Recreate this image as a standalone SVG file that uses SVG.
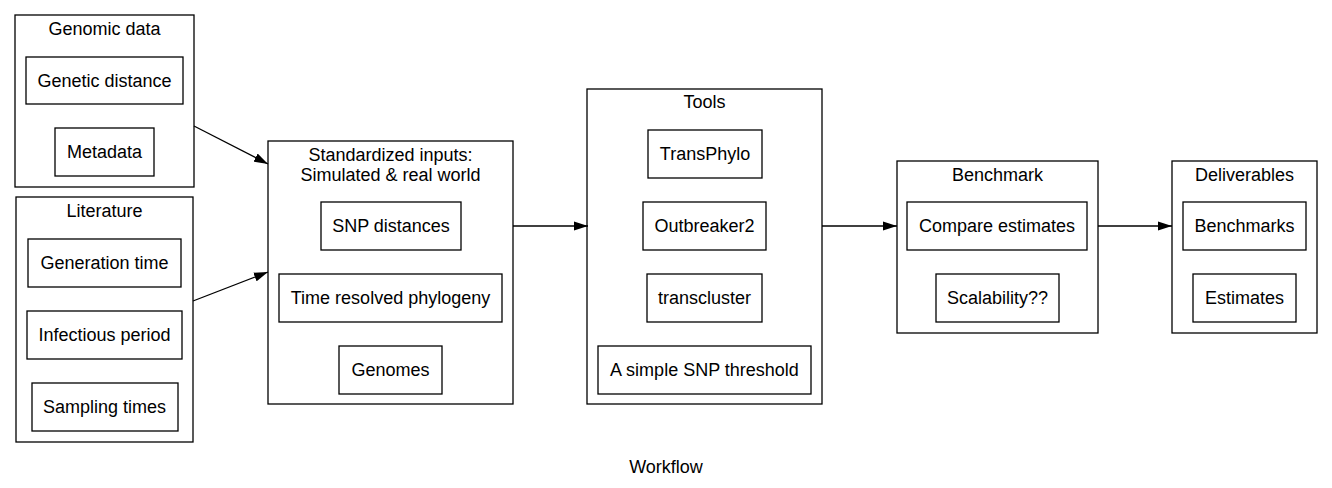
<svg xmlns="http://www.w3.org/2000/svg" width="1332" height="488" viewBox="0 0 1332 488">
<style>
rect{fill:none;stroke:#000;stroke-width:1.3}
text{font-family:"Liberation Sans",Arial,Helvetica,sans-serif;font-size:18px;fill:#000;text-anchor:middle}
.e{stroke:#000;stroke-width:1.3;fill:none;marker-end:url(#ah)}
</style>
<defs>
<marker id="ah" markerWidth="14" markerHeight="10" refX="14" refY="5" orient="auto" markerUnits="userSpaceOnUse">
<path d="M0,0.4 L14,5 L0,9.6 Z" fill="#000"/>
</marker>
</defs>
<rect x="0" y="0" width="1332" height="488" style="fill:#fff;stroke:none"/>
<g id="cluster_genomic">
<rect x="15" y="15" width="179" height="172"/>
<text x="104.5" y="35">Genomic data</text>
<g id="genetic_distance"><rect x="26" y="57" width="157" height="47"/><text x="104.5" y="87">Genetic distance</text></g>
<g id="metadata"><rect x="55" y="128" width="99" height="48"/><text x="104.5" y="158">Metadata</text></g>
</g>
<g id="cluster_literature">
<rect x="16" y="197" width="177" height="245"/>
<text x="104.5" y="217">Literature</text>
<g id="generation_time"><rect x="28" y="239" width="153" height="48"/><text x="104.5" y="269">Generation time</text></g>
<g id="infectious_period"><rect x="27" y="311" width="155" height="48"/><text x="104.5" y="341">Infectious period</text></g>
<g id="sampling_times"><rect x="32" y="383" width="146" height="48"/><text x="104.5" y="413">Sampling times</text></g>
</g>
<g id="cluster_inputs">
<rect x="268" y="141" width="245" height="263"/>
<text x="390.5" y="161">Standardized inputs:</text>
<text x="390.5" y="181">Simulated &amp; real world</text>
<g id="snp_distances"><rect x="321" y="202" width="140" height="48"/><text x="391" y="232">SNP distances</text></g>
<g id="time_resolved"><rect x="279" y="274" width="223" height="48"/><text x="390.5" y="304">Time resolved phylogeny</text></g>
<g id="genomes"><rect x="339" y="346" width="103" height="48"/><text x="390.5" y="376">Genomes</text></g>
</g>
<g id="cluster_tools">
<rect x="587" y="89" width="235" height="315"/>
<text x="704.5" y="108">Tools</text>
<g id="transphylo"><rect x="648" y="130" width="114" height="48"/><text x="705" y="160">TransPhylo</text></g>
<g id="outbreaker2"><rect x="643" y="202" width="123" height="48"/><text x="704.5" y="232">Outbreaker2</text></g>
<g id="transcluster"><rect x="647" y="274" width="115" height="48"/><text x="704.5" y="304">transcluster</text></g>
<g id="snp_threshold"><rect x="598" y="346" width="213" height="48"/><text x="704.5" y="376">A simple SNP threshold</text></g>
</g>
<g id="cluster_benchmark">
<rect x="897" y="161" width="201" height="172"/>
<text x="997.5" y="181">Benchmark</text>
<g id="compare_estimates"><rect x="907" y="202" width="180" height="48"/><text x="997" y="232">Compare estimates</text></g>
<g id="scalability"><rect x="936" y="274" width="123" height="48"/><text x="997.5" y="304">Scalability??</text></g>
</g>
<g id="cluster_deliverables">
<rect x="1172" y="161" width="145" height="172"/>
<text x="1244.5" y="181">Deliverables</text>
<g id="benchmarks"><rect x="1183" y="202" width="123" height="48"/><text x="1244.5" y="232">Benchmarks</text></g>
<g id="estimates"><rect x="1193" y="274" width="103" height="48"/><text x="1244.5" y="304">Estimates</text></g>
</g>
<g id="connectors">
<path class="e" d="M194,126 L268,164"/>
<path class="e" d="M193,301 L268,272"/>
<path class="e" d="M513,226 L588,226"/>
<path class="e" d="M822,226 L897,226"/>
<path class="e" d="M1098,226 L1172,226"/>
</g>
<text x="666" y="473">Workflow</text>
</svg>
